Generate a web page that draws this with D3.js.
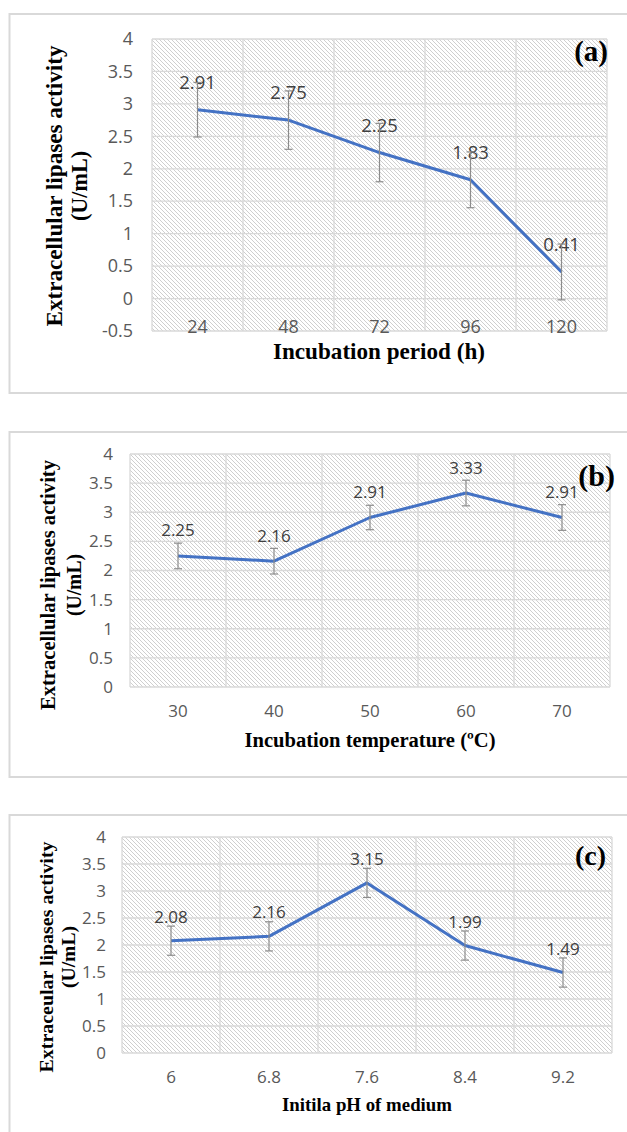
<!DOCTYPE html>
<html>
<head>
<meta charset="utf-8">
<script src="https://cdn.jsdelivr.net/npm/d3@7"></script>
<style>
  body { margin: 0; background: #fff; }
  svg { display: block; }
</style>
</head>
<body>
<script>
// values
const periodCats = ["24", "48", "72", "96", "120"];
const periodVals = [2.91, 2.75, 2.25, 1.83, 0.41];
const periodErr = [0.42, 0.45, 0.45, 0.43, 0.43];

const tempCats = ["30", "40", "50", "60", "70"];
const tempVals = [2.25, 2.16, 2.91, 3.33, 2.91];
const tempErr = [0.22, 0.22, 0.21, 0.22, 0.22];

const phCats = ["6", "6.8", "7.6", "8.4", "9.2"];
const phVals = [2.08, 2.16, 3.15, 1.99, 1.49];
const phErr = [0.27, 0.27, 0.27, 0.27, 0.27];

const ticksA = [-0.5, 0, 0.5, 1, 1.5, 2, 2.5, 3, 3.5, 4];
const ticksBC = [0, 0.5, 1, 1.5, 2, 2.5, 3, 3.5, 4];

const W = 627, H = 1132;
const serif = '"Liberation Serif", "Times New Roman", serif';
const sans = '"Open Sans", "Noto Sans", sans-serif';

const svg = d3.select('body').append('svg')
	.attr('width', W)
	.attr('height', H);

const pat = svg.append('defs').append('pattern')
	.attr('id', 'hatch')
	.attr('patternUnits', 'userSpaceOnUse')
	.attr('width', 4)
	.attr('height', 4);
pat.append('rect').attr('width', 4).attr('height', 4).attr('fill', '#fff');
pat.append('path')
	.attr('d', 'M-1,-1L5,5M3,-1L5,1M-1,3L1,5')
	.attr('stroke', '#c9c9c9')
	.attr('stroke-width', 0.9);

function panel(cfg) {
	const g = svg.append('g');

	g.append('rect')
		.attr('x', 9.5).attr('y', cfg.frameY)
		.attr('width', 660).attr('height', cfg.frameH)
		.attr('fill', 'none')
		.attr('stroke', '#d9d9d9')
		.attr('stroke-width', 2);

	const x = d3.scaleBand().domain(cfg.cats).range([cfg.left, cfg.right]);
	const y = d3.scaleLinear().domain(cfg.domain).range([cfg.bottom, cfg.top]);
	const cx = c => x(c) + x.bandwidth() / 2;

	g.append('rect')
		.attr('x', cfg.left).attr('y', cfg.top)
		.attr('width', cfg.right - cfg.left)
		.attr('height', cfg.bottom - cfg.top)
		.attr('fill', 'url(#hatch)');

	// grid
	g.append('g').selectAll('line')
		.data(cfg.ticks)
		.join('line')
		.attr('x1', cfg.left).attr('x2', cfg.right)
		.attr('y1', d => y(d)).attr('y2', d => y(d))
		.attr('stroke', '#d9d9d9').attr('stroke-width', 1.3);
	g.append('g').selectAll('line')
		.data(cfg.cats.map(c => x(c)).concat([cfg.right]))
		.join('line')
		.attr('x1', d => d).attr('x2', d => d)
		.attr('y1', cfg.top).attr('y2', cfg.bottom)
		.attr('stroke', '#d9d9d9').attr('stroke-width', 1.3);

	// y axis
	g.append('g')
		.attr('transform', `translate(${cfg.left},0)`)
		.call(d3.axisLeft(y).tickValues(cfg.ticks).tickSize(0).tickPadding(cfg.tickPad).tickFormat(d => String(d)))
		.call(a => a.select('.domain').remove())
		.call(a => a.selectAll('text')
			.attr('font-family', sans)
			.attr('font-size', cfg.tickSize)
			.attr('fill', '#595959'));

	// x axis
	g.append('g')
		.attr('transform', `translate(0,${cfg.xLabelY})`)
		.call(d3.axisBottom(x).tickSize(0).tickPadding(0))
		.call(a => a.select('.domain').remove())
		.call(a => a.selectAll('text')
			.attr('y', 0).attr('dy', 0)
			.attr('font-family', sans)
			.attr('font-size', cfg.tickSize)
			.attr('fill', '#595959'));

	const line = d3.line()
		.x((d, i) => cx(cfg.cats[i]))
		.y(d => y(d));
	g.append('path')
		.datum(cfg.vals)
		.attr('d', line)
		.attr('fill', 'none')
		.attr('stroke', '#4472c4')
		.attr('stroke-width', 3)
		.attr('stroke-linejoin', 'round');

	g.append('g').selectAll('text')
		.data(cfg.vals)
		.join('text')
		.attr('x', (d, i) => cx(cfg.cats[i]))
		.attr('y', d => y(d) - cfg.labelOff)
		.attr('text-anchor', 'middle')
		.attr('font-family', sans)
		.attr('font-size', cfg.labelSize)
		.attr('fill', '#404040')
		.text(d => d.toFixed(2));

	const eb = g.append('g')
		.attr('stroke', '#8c8c8c')
		.attr('stroke-width', 1.2)
		.selectAll('g')
		.data(cfg.vals)
		.join('g');
	eb.append('line')
		.attr('x1', (d, i) => cx(cfg.cats[i])).attr('x2', (d, i) => cx(cfg.cats[i]))
		.attr('y1', (d, i) => y(d + cfg.err[i])).attr('y2', (d, i) => y(d - cfg.err[i]));
	eb.append('line')
		.attr('x1', (d, i) => cx(cfg.cats[i]) - 4).attr('x2', (d, i) => cx(cfg.cats[i]) + 4)
		.attr('y1', (d, i) => y(d + cfg.err[i])).attr('y2', (d, i) => y(d + cfg.err[i]));
	eb.append('line')
		.attr('x1', (d, i) => cx(cfg.cats[i]) - 4).attr('x2', (d, i) => cx(cfg.cats[i]) + 4)
		.attr('y1', (d, i) => y(d - cfg.err[i])).attr('y2', (d, i) => y(d - cfg.err[i]));

	// titles
	cfg.yTitle.forEach((t, i) => {
		g.append('text')
			.attr('transform', `translate(${cfg.yTitleX[i]},${cfg.yTitleCy}) rotate(-90)`)
			.attr('text-anchor', 'middle')
			.attr('font-family', serif)
			.attr('font-weight', 'bold')
			.attr('font-size', cfg.titleSize)
			.attr('textLength', cfg.yTitleLen[i])
			.attr('lengthAdjust', 'spacingAndGlyphs')
			.attr('fill', '#000')
			.text(t);
	});

	g.append('text')
		.attr('x', cfg.xTitleX)
		.attr('y', cfg.xTitleY)
		.attr('text-anchor', 'middle')
		.attr('font-family', serif)
		.attr('font-weight', 'bold')
		.attr('font-size', cfg.titleSize)
		.attr('textLength', cfg.xTitleLen)
		.attr('lengthAdjust', 'spacingAndGlyphs')
		.attr('fill', '#000')
		.text(cfg.xTitle);

	g.append('text')
		.attr('x', cfg.tagX)
		.attr('y', cfg.tagY)
		.attr('text-anchor', 'end')
		.attr('font-family', serif)
		.attr('font-weight', 'bold')
		.attr('font-size', cfg.tagSize)
		.attr('fill', '#000')
		.text(cfg.tag);
}

panel({
	cats: periodCats, vals: periodVals, err: periodErr, ticks: ticksA, domain: [-0.5, 4],
	frameY: 14, frameH: 379,
	left: 152, right: 607, top: 39, bottom: 331,
	tickPad: 19, tickSize: 18, xLabelY: 332.5,
	labelSize: 18.5, labelOff: 21,
	titleSize: 23,
	yTitle: ["Extracellular lipases activity", "(U/mL)"],
	yTitleX: [62, 87], yTitleCy: 186, yTitleLen: [281, 70],
	xTitle: "Incubation period (h)", xTitleX: 379, xTitleY: 359, xTitleLen: 212,
	tag: "(a)", tagX: 608, tagY: 61, tagSize: 29
});

panel({
	cats: tempCats, vals: tempVals, err: tempErr, ticks: ticksBC, domain: [0, 4],
	frameY: 432, frameH: 345,
	left: 130, right: 610, top: 454, bottom: 687,
	tickPad: 17, tickSize: 17, xLabelY: 717,
	labelSize: 17, labelOff: 19.5,
	titleSize: 20.5,
	yTitle: ["Extracellular lipases activity", "(U/mL)"],
	yTitleX: [55, 81], yTitleCy: 585, yTitleLen: [250, 62],
	xTitle: "Incubation temperature (\u00baC)", xTitleX: 370, xTitleY: 747, xTitleLen: 251,
	tag: "(b)", tagX: 615, tagY: 486, tagSize: 30
});

panel({
	cats: phCats, vals: phVals, err: phErr, ticks: ticksBC, domain: [0, 4],
	frameY: 815, frameH: 340,
	left: 122, right: 612, top: 837, bottom: 1053,
	tickPad: 16, tickSize: 17, xLabelY: 1083,
	labelSize: 17, labelOff: 18,
	titleSize: 19,
	yTitle: ["Extraceular lipases activity", "(U/mL)"],
	yTitleX: [53, 75], yTitleCy: 957, yTitleLen: [231, 62],
	xTitle: "Initila  pH of medium", xTitleX: 367, xTitleY: 1111, xTitleLen: 170,
	tag: "(c)", tagX: 606, tagY: 865, tagSize: 28
});
</script>
</body>
</html>
